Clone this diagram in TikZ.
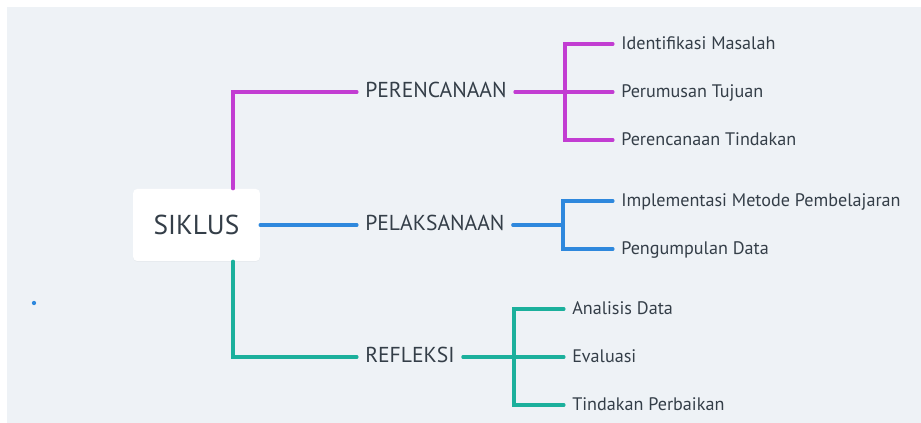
\documentclass[tikz,border=0pt]{standalone}
\usepackage{fontspec}
\setmainfont{PT Sans}
\usetikzlibrary{positioning, shadows}
\definecolor{bgcol}{HTML}{EEF2F6}
\definecolor{txtcol}{HTML}{343E48}
\definecolor{magline}{HTML}{C23DD2}
\definecolor{blueline}{HTML}{2E88DD}
\definecolor{tealline}{HTML}{1BB09C}

\begin{document}
\begin{tikzpicture}[
    x=0.75pt, y=-0.75pt,
    root/.style={fill=white, rounded corners=3pt, minimum width=95pt, minimum height=54pt, font=\fontsize{20.5}{24}\selectfont, text=txtcol, drop shadow={opacity=0.06, shadow xshift=0pt, shadow yshift=-0.6pt}},
    topic/.style={anchor=west, inner xsep=6pt, inner ysep=0pt, text height=0.9em, text depth=0pt, font=\fontsize{16.2}{19}\selectfont, text=txtcol},
    sub/.style={anchor=west, inner xsep=6pt, inner ysep=0pt, text height=0.9em, text depth=0pt, font=\fontsize{13.6}{16}\selectfont, text=txtcol},
    branch/.style={line width=2.3pt, line cap=round}
]
\useasboundingbox (0,0) rectangle (921,423);
\fill[bgcol] (7,7) rectangle (921,423);

% Root
\node[root] (siklus) at (196.5,225) {SIKLUS};

% Main topics
\node[topic] (per) at (357,92) {PERENCANAAN};
\node[topic] (pel) at (357,225) {PELAKSANAAN};
\node[topic] (ref) at (357,357) {REFLEKSI};

% Junctions
\coordinate (rootj) at (233,225);
\coordinate (perj) at (565,92);
\coordinate (pelj) at (563,225);
\coordinate (refj) at (514,357);

% Subtopics
\node[sub] (per1) at (613,44) {Identifikasi Masalah};
\node[sub] (per2) at (613,92) {Perumusan Tujuan};
\node[sub] (per3) at (613,140) {Perencanaan Tindakan};
\node[sub] (pel1) at (613,201) {Implementasi Metode Pembelajaran};
\node[sub] (pel2) at (613,249) {Pengumpulan Data};
\node[sub] (ref1) at (564,309) {Analisis Data};
\node[sub] (ref2) at (564,357) {Evaluasi};
\node[sub] (ref3) at (564,405) {Tindakan Perbaikan};

% Branches
\draw[branch, magline] (siklus.north -| rootj) |- (per.west);
\draw[branch, blueline] (siklus.east) -- (pel.west);
\draw[branch, tealline] (siklus.south -| rootj) |- (ref.west);

\draw[branch, magline] (per.east) -- (perj);
\foreach \s in {per1,per2,per3} {
    \draw[branch, magline] (perj) |- (\s.west);
}
\draw[branch, blueline] (pel.east) -- (pelj);
\foreach \s in {pel1,pel2} {
    \draw[branch, blueline] (pelj) |- (\s.west);
}
\draw[branch, tealline] (ref.east) -- (refj);
\foreach \s in {ref1,ref2,ref3} {
    \draw[branch, tealline] (refj) |- (\s.west);
}

% Stray dot
\fill[blueline] (34,303) circle (1.6pt);

\end{tikzpicture}
\end{document}
